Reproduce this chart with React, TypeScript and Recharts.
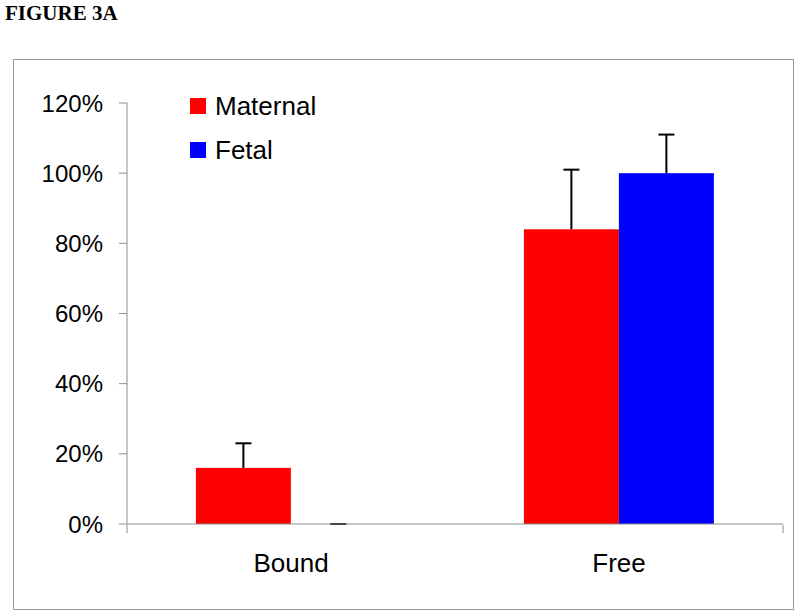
import React from 'react';
import { BarChart, Bar, XAxis, YAxis, Legend } from 'recharts';

const categories = ['Bound', 'Free'];
const seriesNames = ['Maternal', 'Fetal'];
const maternal = [16, 84];
const maternalErr = [7, 17];
const fetal = [0, 100];
const fetalErr = [0, 11];
const yTicks = [0, 20, 40, 60, 80, 100, 120];
const sepTicks = [0, 1, 2];

const chartData = categories.map((name, i) => ({
    name,
    maternal: maternal[i],
    maternalErr: maternalErr[i],
    fetal: fetal[i],
    fetalErr: fetalErr[i],
}));

const FONT = '"Liberation Sans", Arial, sans-serif';
const AXIS = '#8c8c8c';

// bar + upward-only error bar, scaled from the bar's own pixel height
const makeShape = (valueKey: string, errKey: string) => (props: any) => {
    const { x, y, width, height, fill, payload } = props;
    const v = payload[valueKey];
    const e = payload[errKey];
    const ppu = v > 0 ? height / v : 0;
    const top = y - e * ppu;
    const cx = x + width / 2;
    return (
        <g>
            {height > 0 && <rect x={x} y={y} width={width} height={height} fill={fill} />}
            <line x1={cx} y1={y} x2={cx} y2={top} stroke="#000" strokeWidth={2} />
            <line x1={cx - 8} y1={top} x2={cx + 8} y2={top} stroke="#000" strokeWidth={2} />
        </g>
    );
};

const LegendBox = ({ payload }: any) => {
    const items = seriesNames.map(n => (payload || []).find((p: any) => p.value === n)).filter(Boolean);
    return (
        <div style={{ fontFamily: FONT, fontSize: 26, color: '#000' }}>
            {items.map((p: any) => (
                <div key={p.value} style={{ display: 'flex', alignItems: 'center', height: 44, lineHeight: '44px' }}>
                    <span style={{ display: 'inline-block', width: 16, height: 16, background: p.color, marginRight: 9 }} />
                    <span>{p.value}</span>
                </div>
            ))}
        </div>
    );
};

export default function App() {
    return (
        <div style={{ position: 'absolute', left: 0, top: 0, width: 800, height: 615, background: '#fff' }}>
            <div style={{ position: 'absolute', left: 5, top: 3, fontFamily: '"Liberation Serif", "Times New Roman", serif', fontWeight: 'bold', fontSize: 21, lineHeight: '21px' }}>
                FIGURE 3A
            </div>
            <div style={{ position: 'absolute', left: 13, top: 59, width: 781, height: 551, boxSizing: 'border-box', border: '1px solid #999' }}>
                <BarChart width={779} height={549} data={chartData} margin={{ top: 43, right: 10, left: 0, bottom: 83 }} barCategoryGap="21%" barGap={0}>
                    <XAxis dataKey="name" height={1} tickLine={false} tickSize={0} tickMargin={30} axisLine={{ stroke: AXIS }} tick={{ fill: '#000', fontSize: 26, fontFamily: FONT }} />
                    <XAxis xAxisId="sep" type="number" domain={[0, 2]} ticks={sepTicks} interval={0} allowDataOverflow height={1} tick={() => <g />} axisLine={false} tickLine={{ stroke: AXIS, strokeWidth: 1 }} tickSize={8} />
                    <YAxis width={113} domain={[0, 120]} ticks={yTicks} tickFormatter={(v: number) => `${v}%`} axisLine={{ stroke: AXIS }} tickLine={{ stroke: AXIS }} tickSize={8} tickMargin={16} tick={{ fill: '#000', fontSize: 24, fontFamily: FONT }} />
                    <Legend layout="vertical" align="center" verticalAlign="middle" content={<LegendBox />} wrapperStyle={{ left: 176, top: 24, width: 'auto', height: 'auto' }} />
                    <Bar dataKey="maternal" name="Maternal" fill="#ff0000" shape={makeShape('maternal', 'maternalErr')} isAnimationActive={false} />
                    <Bar dataKey="fetal" name="Fetal" fill="#0000ff" shape={makeShape('fetal', 'fetalErr')} isAnimationActive={false} />
                </BarChart>
            </div>
        </div>
    );
}
